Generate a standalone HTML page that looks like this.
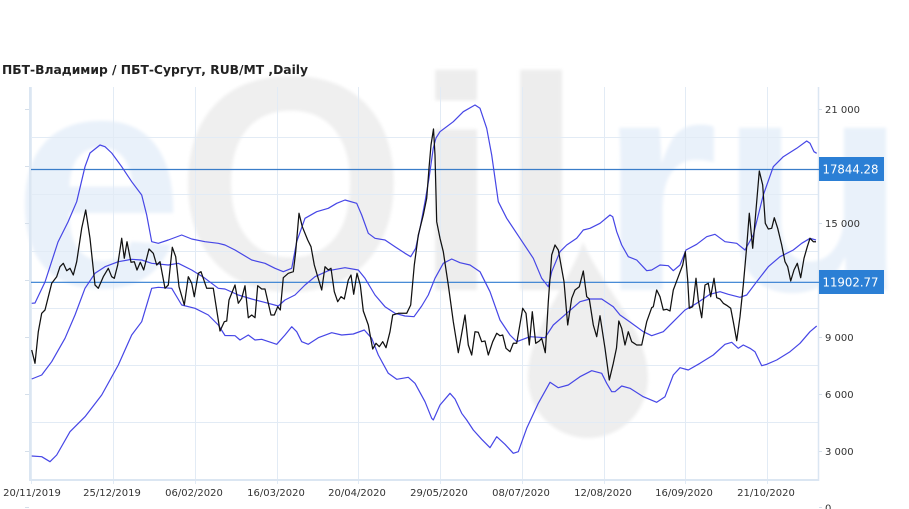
<!DOCTYPE html>
<html><head><meta charset="utf-8"><style>
html,body{margin:0;padding:0;background:#fff;}
svg{display:block;}
</style></head><body>
<svg width="909" height="509" viewBox="0 0 909 509" xmlns="http://www.w3.org/2000/svg">
<defs><filter id="bl" x="-10%" y="-10%" width="120%" height="120%"><feGaussianBlur stdDeviation="1.6"/></filter></defs>
<rect width="909" height="509" fill="#fff"/>
<!-- watermark -->
<g font-family="Liberation Sans, Arial, sans-serif" font-weight="bold" filter="url(#bl)">
<text x="13" y="286" font-size="307" fill="#e9f1fa">e</text>
<text x="176" y="289" font-size="305" fill="#efefef" transform="translate(176 0) scale(0.97 1) translate(-176 0)">O</text>
<text x="414" y="290" font-size="304" fill="#ededed">i</text>
<text x="499" y="290" font-size="304" fill="#ededed">l</text>
<text x="599" y="290" font-size="307" fill="#e9f1fa">r</text>
<text x="720" y="290" font-size="307" fill="#e9f1fa">u</text>
<path d="M583,242 C566,290 528,330 528,378 A60,60 0 0 0 648,378 C648,330 604,290 583,242 Z" fill="#eeeeee"/>
</g>
<!-- grid -->
<g stroke="#e2ebf5" stroke-width="1" fill="none">
<line x1="31" y1="137.5" x2="818" y2="137.5"/>
<line x1="31" y1="194.5" x2="818" y2="194.5"/>
<line x1="31" y1="251.5" x2="818" y2="251.5"/>
<line x1="31" y1="308.5" x2="818" y2="308.5"/>
<line x1="31" y1="365.5" x2="818" y2="365.5"/>
<line x1="31" y1="422.5" x2="818" y2="422.5"/>
<line x1="113.5" y1="87" x2="113.5" y2="484"/>
<line x1="195.5" y1="87" x2="195.5" y2="484"/>
<line x1="277.5" y1="87" x2="277.5" y2="484"/>
<line x1="358.5" y1="87" x2="358.5" y2="484"/>
<line x1="440.5" y1="87" x2="440.5" y2="484"/>
<line x1="522.5" y1="87" x2="522.5" y2="484"/>
<line x1="604.5" y1="87" x2="604.5" y2="484"/>
<line x1="685.5" y1="87" x2="685.5" y2="484"/>
<line x1="767.5" y1="87" x2="767.5" y2="484"/>
<line x1="31.5" y1="87" x2="31.5" y2="484"/>
</g>
<g stroke="#dbe6f2" fill="none">
<line x1="30" y1="87" x2="30" y2="481" stroke-width="2"/>
<line x1="29" y1="480" x2="819" y2="480" stroke-width="2"/>
<line x1="818.5" y1="87" x2="818.5" y2="481" stroke-width="1.5"/>
</g>
<!-- ticks -->
<g stroke="#d5dfea" stroke-width="1">
<line x1="25" y1="109.5" x2="29" y2="109.5"/><line x1="25" y1="166.5" x2="29" y2="166.5"/>
<line x1="25" y1="223.5" x2="29" y2="223.5"/><line x1="25" y1="280.5" x2="29" y2="280.5"/>
<line x1="25" y1="337.5" x2="29" y2="337.5"/><line x1="25" y1="394.5" x2="29" y2="394.5"/>
<line x1="25" y1="451.5" x2="29" y2="451.5"/><line x1="25" y1="507.5" x2="29" y2="507.5"/>
<line x1="819" y1="109.5" x2="822" y2="109.5"/><line x1="819" y1="223.5" x2="822" y2="223.5"/>
<line x1="819" y1="337.5" x2="822" y2="337.5"/><line x1="819" y1="394.5" x2="822" y2="394.5"/>
<line x1="819" y1="451.5" x2="822" y2="451.5"/><line x1="819" y1="507.5" x2="822" y2="507.5"/>
</g>
<!-- horizontal levels -->
<line x1="31" y1="169.5" x2="819" y2="169.5" stroke="#3a7dc9" stroke-width="1.2"/>
<line x1="31" y1="282.3" x2="819" y2="282.3" stroke="#2f7bd0" stroke-width="1.2"/>
<!-- bands -->
<g fill="none" stroke="#4646e6" stroke-width="1.2" stroke-linejoin="round">
<polyline points="31.7,303.3 35,303 45,282 58,242 68,222 76.7,201.7 85,166.7 90,153 100,145 105,146.7 111.7,153 121.7,166.7 131.7,181.7 141.7,195 146.7,215 151.7,241.7 158.3,243.3 168.3,240 181.7,235 191.7,239 205,241.7 218.3,243.3 225,245 235,250 251.7,260 265,263.3 275,268.3 283.3,271.7 291.7,268.3 296.7,241.7 305,218.3 316.7,211.7 328.3,208.3 336.7,203.3 345,200 356.7,203.3 361.7,215 368.3,233.3 375,238.3 385,240 395,246.7 405,253.3 410.7,256.7 415.7,248.3 420,228.3 425,201.7 429,178.3 433.3,148 436,138 440,131.7 453.3,121.7 463.3,111.7 475,105 480,108.3 486.7,128.3 491.7,155 498.3,201.7 506.7,218.3 520,238.3 533.3,258.3 541.7,278.3 548.3,286.7 551.7,271.7 560,251.7 566.7,245 576.7,238.3 583.3,230 590,228.3 600,223.3 610,215 612.7,216.7 616.7,231.7 621.7,245 628.3,256.7 636.7,260 646.7,270.7 651.7,270 660,265 668.3,265.7 673.3,270.7 680,265 686,250 696.7,244.3 706.7,236.7 715,234.3 725,241.7 736.7,243.3 745,250 753.3,235 763.3,195 773.3,166.7 783.3,156.7 796.7,148.3 806.7,141 810,143.3 814,151.7 816.7,153.3"/>
<polyline points="31.7,379 41.7,375 51.7,361.7 65,338.3 75,315 85,288.3 95,273.3 105,266.7 118.3,261.7 131.7,259.3 141.7,260 151.7,263.3 168.3,265 178.3,263.3 191.7,270 205,278.3 218.3,288.3 225,289 238.3,295 251.7,299 268.3,303.3 278.3,306 285,300 295,295 305,285 315,276.7 328.3,270.7 345,267.7 358.3,270 365,278.3 375,295 385,306.7 395,313.3 405,316 414,316.7 421.7,306 428.3,295 435,278.3 443.3,263.3 451.7,259 460,262.7 470,265 480,271.7 490,291.7 500,320 510,335 516.7,341.7 530,336.7 545,337.7 553.3,325 566.7,313.3 580,301.7 590,299 601.7,299 613.3,306.7 620,315 630,322 643.3,331.7 651.7,335.7 663.3,331.7 673.3,321.7 685,310 696.7,303.3 710,294.3 720,291.7 728.3,294.3 740,297.3 746.7,295 756.7,281.7 768.3,266.7 780,256.7 793.3,250 801.7,243.3 810,238.3 816,240"/>
<polyline points="31.7,456 41.7,456.7 50,461.7 56.7,455 70,431.7 85,416.7 101.7,395 118.3,365 131.7,335 141.7,321.7 151.7,288.3 158.3,287.3 171.7,288.3 181.7,305 195,308.3 208.3,315 218.3,325 225,335.5 235,335.7 240,340 248.3,335 255,340 261.7,339.3 276.7,344.3 285,335 291.7,326.7 296.7,331.7 301.7,341.7 308.3,344.3 318.3,337.7 331.7,332.7 341.7,335 353.3,334 364.3,330 371.7,338.3 378.3,355 388.3,373.3 396.7,379.3 408.3,377.3 415,383.3 425,401.7 431.7,418.3 433.3,420 440,405 450,393.3 455,399 461.7,413.3 466.7,420 473.3,430 481.7,439.3 490,447.7 496.7,436.7 505,444.3 513.3,453.3 518.3,451.7 526.7,428.3 538.3,403.3 550,382.3 558.3,387.7 568.3,385 580,376.7 591.7,370.7 601.7,373.3 606.7,383.3 611.7,391.7 615,391.7 621.7,386 630,388.3 643.3,396.7 656.7,402.3 665,396.7 673.3,375 680,367.7 688.3,370 700,363.3 713.3,355 725,344.3 731.7,342.3 738.3,348.3 743.3,345 750,348.3 755,351.7 761.7,365.7 766.7,364.3 776.7,360 790,351.7 800,343.3 810,331.7 816.7,326"/>
</g>
<!-- price -->
<polyline fill="none" stroke="#111" stroke-width="1.25" stroke-linejoin="round" points="31.7,350 35,363.3 38.3,331.7 41.7,313.3 45,310 51.7,283.3 56.7,276.7 60,266.7 63.3,263.3 66.7,270.7 70,268.3 73.3,275 76.7,261.7 81.7,228.3 85.7,210 90,238.3 95,285 98.3,288.3 103.3,276.7 108.3,268.3 111.7,276.7 114.3,278.3 117.7,265 121.7,238.3 124.3,258.3 127,241.7 131,262.3 134.3,261.7 137,270 140.3,262.3 143.7,270 149,249 153.3,253.3 156.7,265 160,261.7 165,288.3 168.3,285 172.3,247.3 175.7,256.7 179,286.7 184.3,305 188.3,276.7 191.7,283.3 194.3,296.7 198.3,273.3 201,271.7 206.7,288.3 213.3,288.3 220,331 224.3,321.7 226.7,321 229,300 235,285 238.3,303.3 241.7,298.3 245,285.7 248.3,317.7 251.7,315 255,317.7 257.7,285.7 261.7,289 265,289 271,315 274.3,315 277.7,306.7 280.3,310 283.3,277.7 288.3,273.3 293.3,271.7 295.7,251.7 299,213.3 302.3,226.7 307.7,240 311,246.7 314.3,265 317.7,276.7 321.7,290 325,266.7 328.3,270 331,268.3 334.3,291.7 337.7,301.7 341,296.7 344.3,299 348.3,280 351,275 353.7,294.3 357,273.3 360.3,285 363.3,311 368.3,325 372.7,349 376,343.3 379.3,346.7 382.7,341.7 386,347.7 390,331.7 392.7,315 398.3,313.3 406.7,313.3 410.7,305 414.3,265 418.3,235 423.3,215 426.7,198.3 429,168.3 431,145 433.5,129 435,155 436.7,221.7 440,238.3 443.3,251.7 448.3,285 453.3,321.7 458.3,352.7 465,315 468.3,345 471.7,355 475,331.7 478.3,332.3 481.7,341.7 485,341 488.3,355 492.7,341.7 496.7,333.3 500,335.7 502.7,335 506,348.3 510,351.7 513.3,343.3 516.7,343.3 522.7,308.3 526,313.3 529.3,345 532.3,311.7 535.7,343.3 539.3,341 541.7,338.3 545.3,352.7 548.3,301.7 551.7,255 555,245 558.3,250 564,281.7 567.7,325 571.7,298.3 575,290 579.3,286.7 583.3,271 586.7,296.7 589.3,299 593.3,325 596.7,336.7 600,315.7 605,348.3 609.3,380 613.3,363.3 616.5,348 618.8,321 621.7,328.3 625,345 628.3,331.7 631.7,341.7 636.7,345 641.7,345 646.7,321.7 651.7,307.7 653.3,306.7 656.7,290 660,296.7 663.3,310 666.7,309.3 670,311 673.3,290 678.3,276.7 682.7,265 685.3,251.7 687.7,280 689.3,308.3 692.7,306.7 696,278.3 698.3,300 701.7,317.7 705,285 708.3,283.3 710.7,296.7 714,278.3 716.7,297.7 720,299 723.3,303.3 727.3,305.7 730.7,308.3 733.3,321.7 736.7,340.7 740,316.7 743.3,285 746.7,246.7 749.3,213.3 752.7,248.3 756,210 759.3,171 762.7,185 765.3,223.3 768.3,229 771.7,228.3 774.3,217.7 777.7,228.3 781.7,245 785,261.7 787.7,266.7 790.7,281 794,270 797.3,263.3 800.7,277.7 804,258.3 807.3,246.7 810,238.3 813.3,241.7 816,241.7"/>
<!-- title -->
<text x="2" y="74" font-family="DejaVu Sans, Verdana, sans-serif" font-weight="bold" font-size="12.5" fill="#222" textLength="306" lengthAdjust="spacingAndGlyphs">ПБТ-Владимир / ПБТ-Сургут,  RUB/MT ,Daily</text>
<!-- right axis labels -->
<g font-family="DejaVu Sans, Verdana, sans-serif" font-size="10" fill="#333">
<text x="825" y="113">21 000</text>
<text x="825" y="227">15 000</text>
<text x="825" y="341">9 000</text>
<text x="825" y="398">6 000</text>
<text x="825" y="455">3 000</text>
<text x="825" y="511.7">0</text>
</g>
<!-- label boxes -->
<rect x="819" y="157" width="65" height="24" fill="#2b7fd5"/>
<rect x="819" y="270" width="65" height="24" fill="#2b7fd5"/>
<g font-family="DejaVu Sans, Verdana, sans-serif" font-size="12.5" fill="#fff">
<text x="822.5" y="173.5" textLength="56" lengthAdjust="spacingAndGlyphs">17844.28</text>
<text x="822.5" y="286.7" textLength="56" lengthAdjust="spacingAndGlyphs">11902.77</text>
</g>
<!-- date labels -->
<g font-family="DejaVu Sans, Verdana, sans-serif" font-size="10" fill="#333" text-anchor="middle">
<text x="32" y="496">20/11/2019</text>
<text x="112" y="496">25/12/2019</text>
<text x="194" y="496">06/02/2020</text>
<text x="276" y="496">16/03/2020</text>
<text x="357" y="496">20/04/2020</text>
<text x="439" y="496">29/05/2020</text>
<text x="521" y="496">08/07/2020</text>
<text x="603" y="496">12/08/2020</text>
<text x="684" y="496">16/09/2020</text>
<text x="766" y="496">21/10/2020</text>
</g>
</svg>
</body></html>
